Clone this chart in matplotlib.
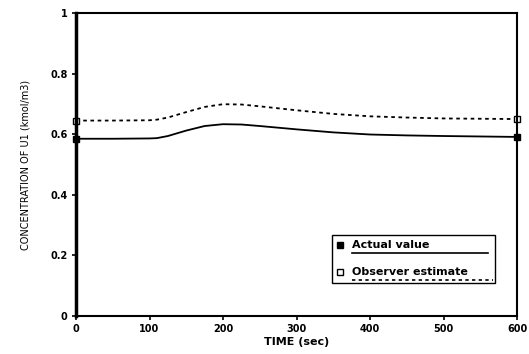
import matplotlib
matplotlib.use("Agg")
import matplotlib.pyplot as plt
from matplotlib.patches import Rectangle

time = [0, 50, 100, 110, 125, 150, 175, 200, 225, 250, 300, 350, 400, 450, 500, 600]
actual = [0.585, 0.585, 0.586, 0.587, 0.594, 0.612, 0.627, 0.633, 0.632, 0.627, 0.616, 0.606, 0.599, 0.596, 0.594, 0.591]
observer = [0.645, 0.645, 0.646, 0.648, 0.655, 0.673, 0.690, 0.699, 0.698, 0.692, 0.679, 0.667, 0.659, 0.655, 0.652, 0.650]
xticks = [0, 100, 200, 300, 400, 500, 600]
yticks = [0, 0.2, 0.4, 0.6, 0.8, 1]
ylabels = ["0", "0.2", "0.4", "0.6", "0.8", "1"]
series_names = ["Actual value", "Observer estimate"]

plt.rcParams['font.family'] = ['DejaVu Sans']
fig = plt.figure(figsize=(5.29, 3.54), dpi=100)
ax = fig.add_axes([76/529, 38/354, 441/529, 303/354])

dot = (0, (2, 2))
ax.plot(time, actual, color='black', lw=1.3)
ax.plot(time, observer, color='black', lw=1.3, linestyle=dot)
ax.plot([time[0], time[-1]], [actual[0], actual[-1]], 's', color='black', ms=5, clip_on=False)
ax.plot([time[0], time[-1]], [observer[0], observer[-1]], 's', mfc='white', mec='black', mew=1, ms=5, clip_on=False)

ax.set_xlim(0, 600)
ax.set_ylim(0, 1)
ax.set_xticks(xticks)
ax.set_xticklabels([str(t) for t in xticks], fontsize=7, fontweight='bold')
ax.set_yticks(yticks)
ax.set_yticklabels(ylabels, fontsize=7, fontweight='bold')
ax.tick_params(direction='out', length=3, width=1.2, pad=3)
for s in ax.spines.values():
    s.set_linewidth(1.5)
ax.spines['left'].set_linewidth(2.5)
ax.set_xlabel("TIME (sec)", fontsize=8, fontweight='bold', labelpad=2)
ax.set_ylabel("CONCENTRATION OF U1 (kmol/m3)", fontsize=7, labelpad=14)

# legend drawn in axes coordinates
T = ax.transAxes
ax.add_patch(Rectangle((0.58, 0.109), 0.37, 0.158, transform=T, fill=True,
                       facecolor='white', edgecolor='black', lw=1.0, zorder=5))
ax.plot([0.599], [0.234], 's', color='black', ms=4, transform=T, zorder=6)
ax.plot([0.599], [0.145], 's', mfc='white', mec='black', ms=4, transform=T, zorder=6)
ax.text(0.626, 0.234, series_names[0], transform=T, fontsize=8, fontweight='bold', va='center', zorder=6)
ax.text(0.626, 0.145, series_names[1], transform=T, fontsize=8, fontweight='bold', va='center', zorder=6)
ax.plot([0.626, 0.935], [0.208, 0.208], color='black', lw=1.2, transform=T, zorder=6)
ax.plot([0.626, 0.945], [0.120, 0.120], color='black', lw=1.2, linestyle=dot, transform=T, zorder=6)

fig.savefig("out.png", dpi=100)
